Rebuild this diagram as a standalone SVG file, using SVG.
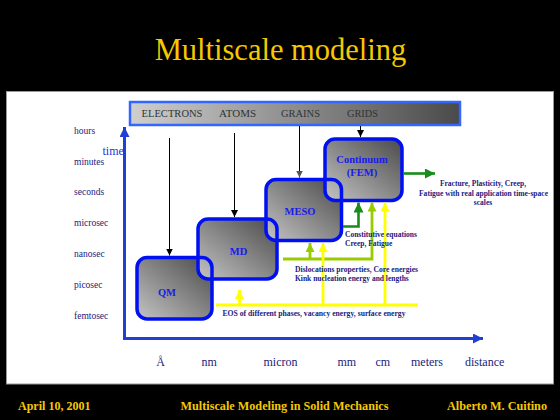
<svg xmlns="http://www.w3.org/2000/svg" width="560" height="420" viewBox="0 0 560 420">
<style>
text{font-family:"Liberation Serif","Times New Roman",Times,"DejaVu Serif",serif}
.gold{fill:#F5C800}
.box{fill:url(#boxg)}
.frame{fill:none;stroke:#0010F0;stroke-width:3.5}
.blab{font-weight:bold;font-size:10.5px;fill:#1A1AEE;text-anchor:middle}
.tl{font-size:9.5px;fill:#22227A}
.dl{font-size:12px;fill:#22227A}
.note{font-weight:bold;font-size:7.5px;fill:#1A1A80}
.bar{font-size:10.5px;fill:#333}
.blk{fill:none;stroke:#000;stroke-width:1}
.yel{fill:none;stroke:#FFFF00;stroke-width:2.8}
.ygr{fill:none;stroke:#99CC00;stroke-width:2.8}
.grn{fill:none;stroke:#1A8C1A;stroke-width:2.6}
</style>
<defs>
<linearGradient id="boxg" x1="1" y1="0" x2="0" y2="1">
<stop offset="0" stop-color="#4a4a4a"/>
<stop offset="1" stop-color="#c4c4c4"/>
</linearGradient>
<linearGradient id="barg" x1="0" y1="0" x2="1" y2="0">
<stop offset="0" stop-color="#cfcfcf"/>
<stop offset="1" stop-color="#4a4a4a"/>
</linearGradient>
<marker id="ablk" viewBox="0 0 10 10" refX="10" refY="5" markerWidth="7" markerHeight="7" markerUnits="userSpaceOnUse" orient="auto"><path d="M0,0L10,5L0,10z" fill="#000"/></marker>
<marker id="agry" viewBox="0 0 10 10" refX="10" refY="5" markerWidth="7" markerHeight="7" markerUnits="userSpaceOnUse" orient="auto"><path d="M0,0L10,5L0,10z" fill="#555"/></marker>
<marker id="ablu" viewBox="0 0 10 10" refX="10" refY="5" markerWidth="10" markerHeight="10" markerUnits="userSpaceOnUse" orient="auto-start-reverse"><path d="M0,0L10,5L0,10z" fill="#1F3FD6"/></marker>
<marker id="ayel" viewBox="0 0 10 10" refX="10" refY="5" markerWidth="9" markerHeight="9" markerUnits="userSpaceOnUse" orient="auto"><path d="M0,0L10,5L0,10z" fill="#FFFF00"/></marker>
<marker id="aygr" viewBox="0 0 10 10" refX="10" refY="5" markerWidth="9" markerHeight="9" markerUnits="userSpaceOnUse" orient="auto"><path d="M0,0L10,5L0,10z" fill="#99CC00"/></marker>
<marker id="agrn" viewBox="0 0 10 10" refX="10" refY="5" markerWidth="10" markerHeight="10" markerUnits="userSpaceOnUse" orient="auto"><path d="M0,0L10,5L0,10z" fill="#1A8C1A"/></marker>
</defs>
<rect width="560" height="420" fill="#000"/>
<text class="gold" x="280.5" y="60" font-size="30.5" text-anchor="middle">Multiscale modeling</text>
<rect x="6.5" y="91.5" width="547" height="292.5" fill="#fff" stroke="#999" stroke-width="1"/>

<g id="scale-bar">
<rect x="130" y="102" width="330" height="23" fill="url(#barg)" stroke="#3366FF" stroke-width="2.5"/>
<text class="bar" x="141.5" y="117" textLength="61" lengthAdjust="spacingAndGlyphs">ELECTRONS</text>
<text class="bar" x="219" y="117" textLength="37" lengthAdjust="spacingAndGlyphs">ATOMS</text>
<text class="bar" x="281" y="117" textLength="39" lengthAdjust="spacingAndGlyphs">GRAINS</text>
<text class="bar" x="347" y="117" textLength="31" lengthAdjust="spacingAndGlyphs">GRIDS</text>
</g>

<g id="axes">
<polyline points="124.5,127 124.5,338.5 483,338.5" fill="none" stroke="#1F3FD6" stroke-width="3" marker-start="url(#ablu)" marker-end="url(#ablu)"/>
<text x="102.5" y="154.5" font-size="12" fill="#2233DD">time</text>
<text class="tl" x="74" y="134">hours</text>
<text class="tl" x="74" y="164.5">minutes</text>
<text class="tl" x="74" y="195">seconds</text>
<text class="tl" x="74" y="226">microsec</text>
<text class="tl" x="74" y="257">nanosec</text>
<text class="tl" x="74" y="287.5">picosec</text>
<text class="tl" x="74" y="318.5">femtosec</text>
<text class="dl" x="160.5" y="366" text-anchor="middle">Å</text>
<text class="dl" x="201.5" y="366">nm</text>
<text class="dl" x="263.5" y="366">micron</text>
<text class="dl" x="337.5" y="366">mm</text>
<text class="dl" x="375.5" y="366">cm</text>
<text class="dl" x="411" y="366">meters</text>
<text class="dl" x="465" y="366" fill="#2233DD">distance</text>
</g>

<g id="qm"><rect class="box" x="137" y="257.5" width="75" height="61.5" rx="10"/><text class="blab" x="167" y="295.5">QM</text></g>
<g id="md"><rect class="box" x="198" y="219" width="79" height="60" rx="10"/><text class="blab" x="238.5" y="254.5">MD</text></g>
<g id="meso"><rect class="box" x="266" y="179.5" width="75.5" height="61" rx="10"/><text class="blab" x="300" y="214.5">MESO</text></g>
<g id="continuum"><rect class="box" x="325" y="139" width="77" height="61.5" rx="10"/><text class="blab" x="362" y="163">Continuum</text><text class="blab" x="362" y="175.5">(FEM)</text></g>
<g id="node-frames">
<rect class="frame" x="137" y="257.5" width="75" height="61.5" rx="10"/>
<rect class="frame" x="198" y="219" width="79" height="60" rx="10"/>
<rect class="frame" x="266" y="179.5" width="75.5" height="61" rx="10"/>
<rect class="frame" x="325" y="139" width="77" height="61.5" rx="10"/>
</g>

<g id="connectors">
<path class="blk" d="M169.5,138V255.5" marker-end="url(#ablk)"/>
<path class="blk" d="M234.5,133V217" marker-end="url(#ablk)"/>
<path class="blk" d="M299.5,126V177.5" stroke="#666" marker-end="url(#agry)"/>
<path class="blk" d="M360.5,126V137" marker-end="url(#ablk)"/>
<path class="grn" d="M404,173.5H435" marker-end="url(#agrn)"/>
<path class="grn" d="M343,226.5H358.5V202.5" marker-end="url(#agrn)"/>
<path class="ygr" d="M283,259H372V202.5" marker-end="url(#aygr)"/>
<path class="ygr" d="M310,259V243" marker-end="url(#aygr)"/>
<path class="yel" d="M216,305H418"/>
<path class="yel" d="M323,305V243" marker-end="url(#ayel)"/>
<path class="yel" d="M385,305V202.5" marker-end="url(#ayel)"/>
<path class="yel" d="M239.5,305V290" marker-end="url(#ayel)"/>
</g>

<g id="labels">
<text class="note" x="483" y="186" text-anchor="middle">Fracture, Plasticity, Creep,</text>
<text class="note" x="483.5" y="195.5" text-anchor="middle" textLength="129" lengthAdjust="spacingAndGlyphs">Fatigue with real application time-space</text>
<text class="note" x="483" y="205" text-anchor="middle">scales</text>
<text class="note" x="345" y="236.5">Constitutive equations</text>
<text class="note" x="345" y="245.5">Creep, Fatigue</text>
<text class="note" x="295" y="271.5" textLength="123" lengthAdjust="spacingAndGlyphs">Dislocations properties, Core energies</text>
<text class="note" x="295" y="280.5">Kink nucleation energy and lengths</text>
<text class="note" x="222.5" y="316" textLength="183" lengthAdjust="spacingAndGlyphs">EOS of different phases, vacancy energy, surface energy</text>
</g>

<g id="footer">
<text class="gold" x="18" y="410" font-size="11.5" font-weight="bold" textLength="72.5" lengthAdjust="spacingAndGlyphs">April 10, 2001</text>
<text class="gold" x="180.5" y="410" font-size="11.5" font-weight="bold" textLength="208" lengthAdjust="spacingAndGlyphs">Multiscale Modeling in Solid Mechanics</text>
<text class="gold" x="447" y="410" font-size="11.5" font-weight="bold" textLength="100" lengthAdjust="spacingAndGlyphs">Alberto M. Cuitino</text>
</g>
</svg>
